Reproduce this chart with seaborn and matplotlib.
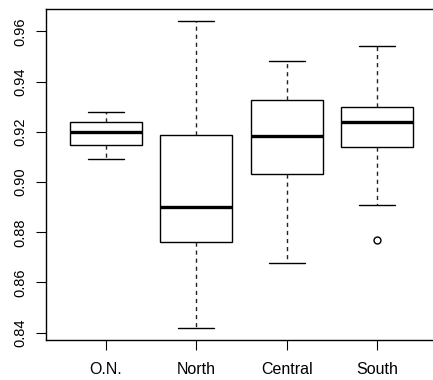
import numpy as np
import pandas as pd
import matplotlib
matplotlib.use("Agg")
import matplotlib.pyplot as plt
import seaborn as sns

regions = ["O.N.", "North", "Central", "South"]
on_values = [0.909, 0.9147, 0.920, 0.924, 0.928]
north_values = [0.8418, 0.8761, 0.890, 0.9189, 0.9641]
central_values = [0.8679, 0.9031, 0.9185, 0.9326, 0.9482]
south_values = [0.8771, 0.891, 0.9141, 0.919, 0.924, 0.927, 0.930, 0.942, 0.954]
yticks = [0.84, 0.86, 0.88, 0.90, 0.92, 0.94, 0.96]

groups = [on_values, north_values, central_values, south_values]
df = pd.DataFrame({
    "region": np.concatenate([[r] * len(v) for r, v in zip(regions, groups)]),
    "value": np.concatenate(groups),
})

sns.set_theme(style="white")
plt.rcParams["font.family"] = ["Liberation Sans", "DejaVu Sans"]

fig = plt.figure(figsize=(4.33, 3.80), dpi=100)
ax = fig.add_axes([46 / 433, 40 / 380, (437 - 46) / 433, (340 - 9) / 380])

sns.boxplot(
    data=df, x="region", y="value", order=regions, ax=ax,
    color="white", linecolor="black", linewidth=1.0, width=0.8, whis=1.6,
    fliersize=5,
    medianprops=dict(linewidth=2.4, color="black"),
    whiskerprops=dict(linestyle=(0, (3, 2.8)), color="#222222"),
    capprops=dict(color="black"),
    flierprops=dict(marker="o", markerfacecolor="none", markeredgecolor="black",
                    markeredgewidth=1.0),
)

ax.set_xlim(-0.66, 3.66)
ax.set_ylim(0.8371, 0.9689)
ax.set_yticks(yticks)
ax.set_yticklabels([f"{t:.2f}" for t in yticks])
ax.set_xlabel("")
ax.set_ylabel("")
for s in ax.spines.values():
    s.set_visible(True)
    s.set_color("black")
    s.set_linewidth(1.0)
ax.tick_params(axis="both", direction="out", length=7.2, width=0.8, color="black",
               labelcolor="black", bottom=True, left=True)
ax.tick_params(axis="x", pad=9.0, labelsize=11.5)
ax.tick_params(axis="y", pad=6.5, labelrotation=90, labelsize=10.5)
for lab in ax.get_yticklabels():
    lab.set_va("center")

fig.savefig("out.png", dpi=100)
